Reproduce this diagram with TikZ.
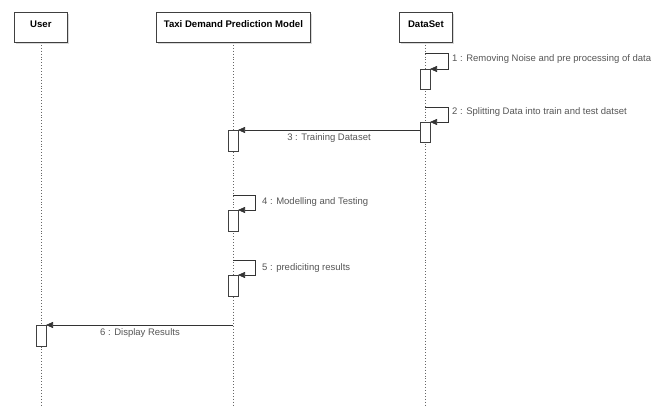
\documentclass[tikz,border=0pt]{standalone}
\usepackage{fontspec}
\setmainfont{Liberation Sans}
\usetikzlibrary{arrows.meta}
\definecolor{lbl}{HTML}{555555}
\tikzset{
  actor/.style={draw=black!75, line width=0.8pt, fill=white, minimum height=30pt, anchor=north west, inner sep=0pt},
  shadowbox/.style={fill=black!15},
  life/.style={draw=black!60, line width=0.9pt, dotted},
  act/.style={draw=black!75, line width=0.8pt, fill=white},
  msg/.style={draw=black!80, line width=0.7pt, -{Triangle[length=7pt,width=6pt]}},
  selfmsg/.style={draw=black!80, line width=0.7pt, -{Triangle[length=7pt,width=6pt]}},
  lab/.style={text=lbl, font=\fontsize{9.5}{11}\selectfont, inner sep=0pt},
  ttl/.style={font=\bfseries\fontsize{9.6}{11}\selectfont, anchor=north}
}
\begin{document}
\begin{tikzpicture}[x=1pt,y=-1pt]
\useasboundingbox (0,0) rectangle (666,405);
% shadows
\fill[shadowbox] (16,14) rectangle (69,44);
\fill[shadowbox] (158,14) rectangle (312,44);
\fill[shadowbox] (401,14) rectangle (454,44);
% lifelines
\coordinate (uTop) at (41,42); \coordinate (uBot) at (41,405);
\coordinate (tTop) at (233,42); \coordinate (tBot) at (233,405);
\coordinate (dTop) at (425,42); \coordinate (dBot) at (425,405);
\draw[life] (uTop) -- (uBot);
\draw[life] (tTop) -- (tBot);
\draw[life] (dTop) -- (dBot);
% actor boxes
\node[actor, minimum width=53pt] (user) at (14,12) {};
\node[ttl] at ([yshift=-5pt]user.north) {User};
\node[actor, minimum width=154pt] (taxi) at (156,12) {};
\node[ttl] at ([yshift=-5pt]taxi.north) {Taxi Demand Prediction Model};
\node[actor, minimum width=53pt] (data) at (399,12) {};
\node[ttl] at ([yshift=-5pt]data.north) {DataSet};
% activation boxes
\draw[act] (420,69) rectangle (430,89); \coordinate (a1) at (430,69);
\draw[act] (420,122) rectangle (430,142); \coordinate (a2) at (430,122); \coordinate (a2l) at (420,130);
\draw[act] (228,130) rectangle (238,151); \coordinate (a3) at (238,130);
\draw[act] (228,210) rectangle (238,231); \coordinate (a4) at (238,210);
\draw[act] (228,275) rectangle (238,296); \coordinate (a5) at (238,275);
\draw[act] (36,325) rectangle (46,346); \coordinate (a6) at (46,325);
% self messages
\coordinate (s1) at (425,53);
\draw[selfmsg] (s1) -- (448,53) -- (448,69) -- (a1);
\node[lab, anchor=west] (l1) at (452,59) {1 : Removing Noise and pre processing of data};
\coordinate (s2) at (425,107);
\draw[selfmsg] (s2) -- (448,107) -- (448,122) -- (a2);
\node[lab, anchor=west] (l2) at (452,112) {2 : Splitting Data into train and test datset};
% message 3
\draw[msg] (a2l) -- (a3);
\node[lab] (l3) at (329,138) {3 : Training Dataset};
% self 4
\coordinate (s4) at (233,195);
\draw[selfmsg] (s4) -- (255,195) -- (255,210) -- (a4);
\node[lab, anchor=west] (l4) at (262,202) {4 : Modelling and Testing};
\coordinate (s5) at (233,260);
\draw[selfmsg] (s5) -- (255,260) -- (255,275) -- (a5);
\node[lab, anchor=west] (l5) at (262,268) {5 : prediciting results};
% message 6
\coordinate (m6) at (233,325);
\draw[msg] (m6) -- (a6);
\node[lab] (l6) at (140,333) {6 : Display Results};
\end{tikzpicture}
\end{document}
